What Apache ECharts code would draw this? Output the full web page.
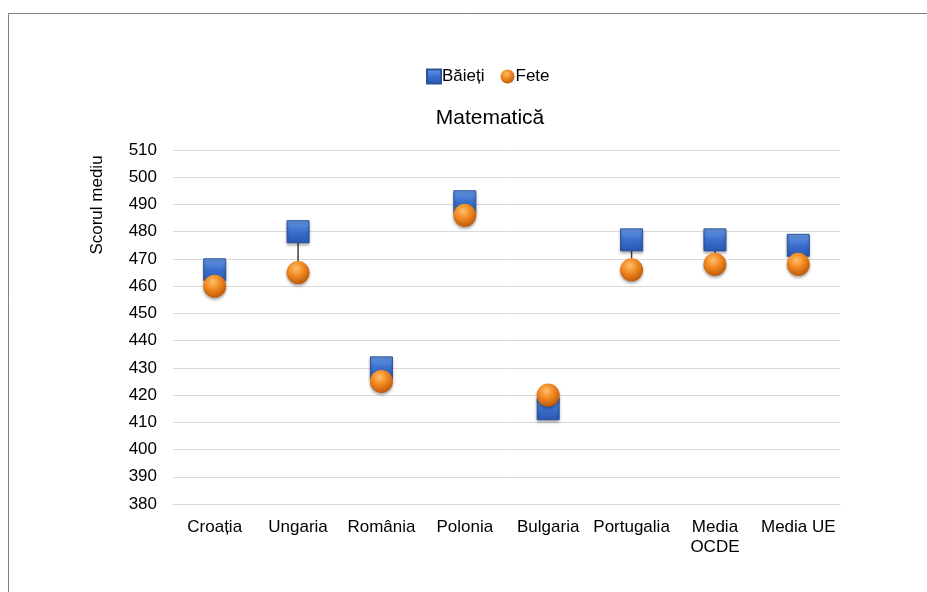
<!DOCTYPE html>
<html>
<head>
<meta charset="utf-8">
<script src="https://cdn.jsdelivr.net/npm/echarts@6/dist/echarts.min.js"></script>
<style>
  html, body { margin: 0; padding: 0; background: #fff; }
  #main { width: 927px; height: 592px; }
</style>
</head>
<body>
<div id="main"></div>
<script>
var categories = ['Croația', 'Ungaria', 'România', 'Polonia', 'Bulgaria', 'Portugalia', 'Media\nOCDE', 'Media UE'];
var baieti = [466, 480, 430, 491, 415, 477, 477, 475];
var fete = [460, 465, 425, 486, 420, 466, 468, 468];
var yMin = 380, yMax = 510, yStep = 10;

var font = 'Liberation Sans, Arial, sans-serif';
var myChart = echarts.init(document.getElementById('main'));

var blueFill = new echarts.graphic.LinearGradient(0, 0, 0, 1, [
  { offset: 0, color: '#6a9be6' },
  { offset: 0.5, color: '#3a6fcc' },
  { offset: 1, color: '#2858b2' }
]);
var orangeFill = new echarts.graphic.RadialGradient(0.42, 0.32, 0.72, [
  { offset: 0, color: '#fcc06e' },
  { offset: 0.45, color: '#f28a22' },
  { offset: 1, color: '#b95508' }
]);

var option = {
  animation: false,
  graphic: [
    {
      type: 'rect',
      shape: { x: 8.5, y: 13.5, width: 1000, height: 1000 },
      style: { fill: 'none', stroke: '#7f7f7f', lineWidth: 1 },
      silent: true
    },
    {
      type: 'text',
      x: 490, y: 118,
      style: { text: 'Matematică', fill: '#000', font: '21px ' + font, textAlign: 'center', textVerticalAlign: 'middle' }
    },
    {
      type: 'text',
      x: 97, y: 205, rotation: Math.PI / 2,
      style: { text: 'Scorul mediu', fill: '#000', font: '17px ' + font, textAlign: 'center', textVerticalAlign: 'middle' }
    }
  ],
  legend: {
    left: 421,
    top: 63,
    itemWidth: 14,
    itemHeight: 14,
    itemGap: 16,
    textStyle: { fontFamily: font, fontSize: 17, color: '#000', padding: [0, 0, 0, -4] },
    data: [
      { name: 'Băieți', icon: 'rect' },
      { name: 'Fete', icon: 'circle' }
    ]
  },
  grid: { left: 173, right: 87, top: 150, bottom: 88 },
  xAxis: {
    type: 'category',
    data: categories,
    axisLine: { lineStyle: { color: '#d9d9d9', width: 1 } },
    axisTick: { show: false },
    axisLabel: { fontFamily: font, fontSize: 17, color: '#000', margin: 13, interval: 0, lineHeight: 20, verticalAlign: 'top' }
  },
  yAxis: {
    type: 'value',
    min: yMin, max: yMax, interval: yStep,
    axisLine: { show: false },
    axisTick: { show: false },
    splitLine: { lineStyle: { color: '#d9d9d9', width: 1 } },
    axisLabel: { fontFamily: font, fontSize: 17, color: '#000', margin: 16 }
  },
  series: [
    {
      name: 'linii',
      type: 'custom',
      z: 1,
      silent: true,
      data: categories.map(function (c, i) { return [i, baieti[i], fete[i]]; }),
      renderItem: function (params, api) {
        var a = api.coord([api.value(0), api.value(1)]);
        var b = api.coord([api.value(0), api.value(2)]);
        return {
          type: 'line',
          shape: { x1: a[0], y1: a[1], x2: b[0], y2: b[1] },
          style: { stroke: '#404040', lineWidth: 1.5 }
        };
      }
    },
    {
      name: 'Băieți',
      type: 'scatter',
      z: 3,
      symbol: 'rect',
      symbolSize: 22,
      data: baieti,
      itemStyle: {
        color: blueFill,
        borderColor: '#2a539c',
        borderWidth: 1,
        shadowBlur: 3,
        shadowOffsetY: 2,
        shadowColor: 'rgba(0,0,0,0.35)',
        opacity: 1
      }
    },
    {
      name: 'Fete',
      type: 'scatter',
      z: 4,
      symbol: 'circle',
      symbolSize: 23,
      data: fete,
      itemStyle: {
        color: orangeFill,
        shadowBlur: 3,
        shadowOffsetY: 2,
        shadowColor: 'rgba(0,0,0,0.35)',
        opacity: 1
      }
    }
  ]
};
myChart.setOption(option);
</script>
</body>
</html>
